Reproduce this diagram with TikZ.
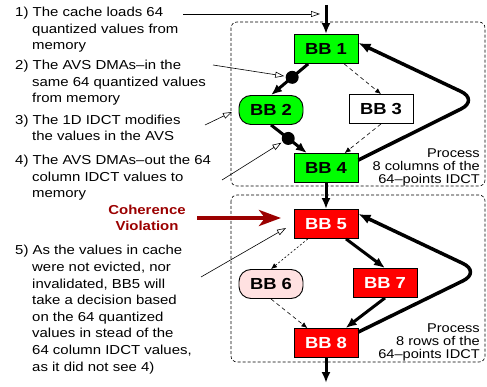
\documentclass[tikz,border=0pt]{standalone}
\usepackage{fontspec}
\setmainfont{Liberation Sans}[FakeStretch=1.15]
\usetikzlibrary{arrows.meta}
\definecolor{bbgreen}{RGB}{0,255,0}
\definecolor{bbred}{RGB}{255,0,0}
\definecolor{bbpink}{RGB}{255,225,225}
\definecolor{violred}{RGB}{155,0,0}
\newcommand{\noteindent}{\hspace*{17pt}}
\tikzset{
  BlockStyle/.style = { rectangle, draw, line width=0.9pt,
                        minimum width=64pt, minimum height=29pt, inner sep=0pt,
                        font=\fontsize{16}{16}\selectfont\bfseries },
  GreenBlock/.style = { BlockStyle, fill=bbgreen },
  RedBlock/.style = { BlockStyle, fill=bbred, text=white },
  RoundBlock/.style = { rounded corners=12pt },
  AreaStyle/.style = { draw, line width=0.6pt, dash pattern=on 3pt off 2pt,
                       rounded corners=6pt },
  FlowEdge/.style = { line width=3pt, -{Latex[length=11pt,width=9pt]} },
  LoopEdge/.style = { line width=3.5pt, rounded corners=20pt,
                      -{Latex[length=12pt,width=10pt]} },
  MayEdge/.style = { line width=0.6pt, dash pattern=on 4pt off 3pt,
                     -{Latex[length=6pt,width=5pt]} },
  RareEdge/.style = { line width=0.6pt, dash pattern=on 2pt off 2pt,
                      -{Latex[length=6pt,width=5pt]} },
  DotStyle/.style = { circle, fill=black, inner sep=0pt, minimum size=13pt },
  PointStyle/.style = { line width=0.6pt,
                        -{Triangle[open,length=9pt,width=6pt,fill=white]} },
  ViolEdge/.style = { violred, line width=4pt,
                      -{Stealth[length=22pt,width=16pt,inset=6pt]} },
  NoteStyle/.style = { align=left, anchor=base west, inner sep=0pt,
                       font=\fontsize{13}{16.6}\selectfont },
  ProcStyle/.style = { align=right, anchor=base east, inner sep=0pt,
                       font=\fontsize{12.7}{13}\selectfont },
  ViolStyle/.style = { align=center, anchor=base, inner sep=0pt, text=violred,
                       font=\fontsize{13}{16.6}\selectfont\bfseries } }

\begin{document}
\begin{tikzpicture}[x=1pt,y=-1pt]
  \useasboundingbox (0,0) rectangle (487,387);
  \draw[AreaStyle] (231,22) rectangle (485,186);
  \draw[AreaStyle] (231,195) rectangle (485,362);

  \node[GreenBlock] (bb1) at (326,49) {BB 1};
  \node[GreenBlock,RoundBlock] (bb2) at (271,110) {BB 2};
  \node[BlockStyle,fill=white] (bb3) at (381,109) {BB 3};
  \node[GreenBlock] (bb4) at (326,168) {BB 4};

  \node[RedBlock] (bb5) at (326,224) {BB 5};
  \node[BlockStyle,RoundBlock,fill=bbpink] (bb6) at (271,284) {BB 6};
  \node[RedBlock] (bb7) at (385,283) {BB 7};
  \node[RedBlock] (bb8) at (326,343) {BB 8};

  \coordinate (start) at (326,5);
  \coordinate (stop) at (326,383);
  \coordinate (bend1) at (479,100);
  \coordinate (bend2) at (481,272);

  \draw[FlowEdge] (start) -- (bb1);
  \draw[FlowEdge] (bb1) -- node[DotStyle,pos=0.43] (dot1) {} (bb2.north);
  \draw[FlowEdge] (bb2.south) -- node[DotStyle,pos=0.48] (dot2) {} (bb4);
  \draw[MayEdge] (bb1) -- (bb3.north);
  \draw[MayEdge] (bb3.south) -- (bb4);
  \draw[LoopEdge] ([yshift=8pt]bb4.east) -- (bend1) -- ([yshift=6pt]bb1.east);

  \draw[FlowEdge] (bb4) -- (bb5);
  \draw[FlowEdge] (bb5) -- (bb7.north);
  \draw[FlowEdge] (bb7.south) -- (bb8);
  \draw[RareEdge] (bb5) -- (bb6.north);
  \draw[MayEdge] (bb6.south) -- (bb8);
  \draw[LoopEdge] ([yshift=11pt]bb8.east) -- (bend2) -- ([yshift=10pt]bb5.east);
  \draw[FlowEdge] (bb8) -- (stop);

  \node[ProcStyle] (proc1) at (480,184) {Process\\8 columns of the\\64--points IDCT};
  \node[ProcStyle] (proc2) at (480,358) {Process\\8 rows of the\\64--points IDCT};

  \node[NoteStyle] (note1) at (15,50) {1) The cache loads 64\\\noteindent quantized values from\\\noteindent memory};
  \node[NoteStyle] (note2) at (15,103) {2) The AVS DMAs--in the\\\noteindent same 64 quantized values\\\noteindent from memory};
  \node[NoteStyle] (note3) at (15,141) {3) The 1D IDCT modifies\\\noteindent the values in the AVS};
  \node[NoteStyle] (note4) at (15,198) {4) The AVS DMAs--out the 64\\\noteindent column IDCT values to\\\noteindent memory};
  \node[NoteStyle] (note5) at (15,371) {5) As the values in cache\\\noteindent were not evicted, nor\\\noteindent invalidated, BB5 will\\\noteindent take a decision based\\\noteindent on the 64 quantized\\\noteindent values in stead of the\\\noteindent 64 column IDCT values,\\\noteindent as it did not see 4)};
  \node[ViolStyle] (viol) at (147,231) {Coherence\\Violation};

  \coordinate (p1) at (183,14);
  \coordinate (t1) at (320,14);
  \coordinate (p2) at (213,65);
  \coordinate (p3) at (205,125);
  \coordinate (t3) at (232,112);
  \coordinate (p4) at (222,180);
  \coordinate (p5) at (201,277);
  \coordinate (t5) at (286,228);
  \coordinate (v1) at (197,218);
  \coordinate (v2) at (281,218);

  \draw[PointStyle] (p1) -- (t1);
  \draw[PointStyle] (p2) -- (dot1);
  \draw[PointStyle] (p3) -- (t3);
  \draw[PointStyle] (p4) -- (dot2);
  \draw[PointStyle] (p5) -- (t5);
  \draw[ViolEdge] (v1) -- (v2);
\end{tikzpicture}
\end{document}
